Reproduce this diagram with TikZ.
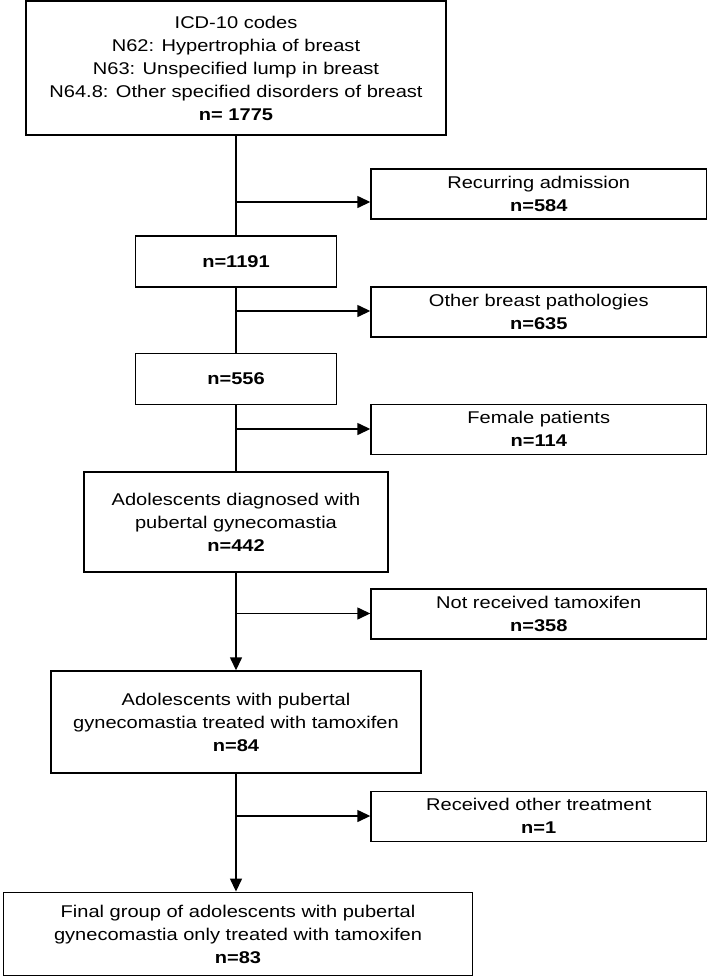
\documentclass[tikz,border=0pt]{standalone}
\usepackage{fontspec}
\setmainfont{Liberation Sans}[FakeStretch=1.18]
\usetikzlibrary{arrows.meta}
\begin{document}
\begin{tikzpicture}[x=1pt,y=-1pt,
  box/.style={draw=black, line width=1.4pt, align=center, inner sep=0pt,
              font=\fontsize{17}{23}\selectfont},
  rbox/.style={box, minimum width=335.5pt, minimum height=50pt},
  flow/.style={draw=black, line width=1.4pt},
  arr/.style={flow, -{Triangle[length=13pt,width=12pt]}}]
\useasboundingbox (0,0) rectangle (708,977);

\node[box, minimum width=420pt, minimum height=134pt] (b1) at (236,68)
  {ICD-10 codes\\N62: Hypertrophia of breast\\N63: Unspecified lump in breast\\N64.8: Other specified disorders of breast\\\textbf{n= 1775}};
\node[rbox] (r1) at (538.75,194) {Recurring admission\\\textbf{n=584}};
\node[box, minimum width=201pt, minimum height=51pt] (b2) at (236,261.5) {\textbf{n=1191}};
\node[rbox] (r2) at (538.75,312) {Other breast pathologies\\\textbf{n=635}};
\node[box, minimum width=201pt, minimum height=51pt] (b3) at (236,379) {\textbf{n=556}};
\node[rbox] (r3) at (538.75,429.3) {Female patients\\\textbf{n=114}};
\node[box, minimum width=304pt, minimum height=100pt] (b4) at (236,522)
  {Adolescents diagnosed with\\pubertal gynecomastia\\\textbf{n=442}};
\node[rbox] (r4) at (538.75,614) {Not received tamoxifen\\\textbf{n=358}};
\node[box, minimum width=370pt, minimum height=102pt] (b5) at (236,722)
  {Adolescents with pubertal\\gynecomastia treated with tamoxifen\\\textbf{n=84}};
\node[rbox] (r5) at (538.75,816.3) {Received other treatment\\\textbf{n=1}};
\node[box, minimum width=469pt, minimum height=83.5pt] (b6) at (238,934)
  {Final group of adolescents with pubertal\\gynecomastia only treated with tamoxifen\\\textbf{n=83}};

\coordinate (j1) at (236,202);
\coordinate (j2) at (236,311);
\coordinate (j3) at (236,429);
\coordinate (j4) at (236,613.5);
\coordinate (j5) at (236,816);

\draw[flow] (b1.south) -- (b2.north);
\draw[flow] (b2.south) -- (b3.north);
\draw[flow] (b3.south) -- (b4.north);
\draw[arr] (b4.south) -- (b5.north);
\draw[arr] (b5.south) -- (b5.south |- b6.north);

\draw[arr] (j1) -- (j1 -| r1.west);
\draw[arr] (j2) -- (j2 -| r2.west);
\draw[arr] (j3) -- (j3 -| r3.west);
\draw[arr] (j4) -- (j4 -| r4.west);
\draw[arr] (j5) -- (j5 -| r5.west);
\end{tikzpicture}
\end{document}
